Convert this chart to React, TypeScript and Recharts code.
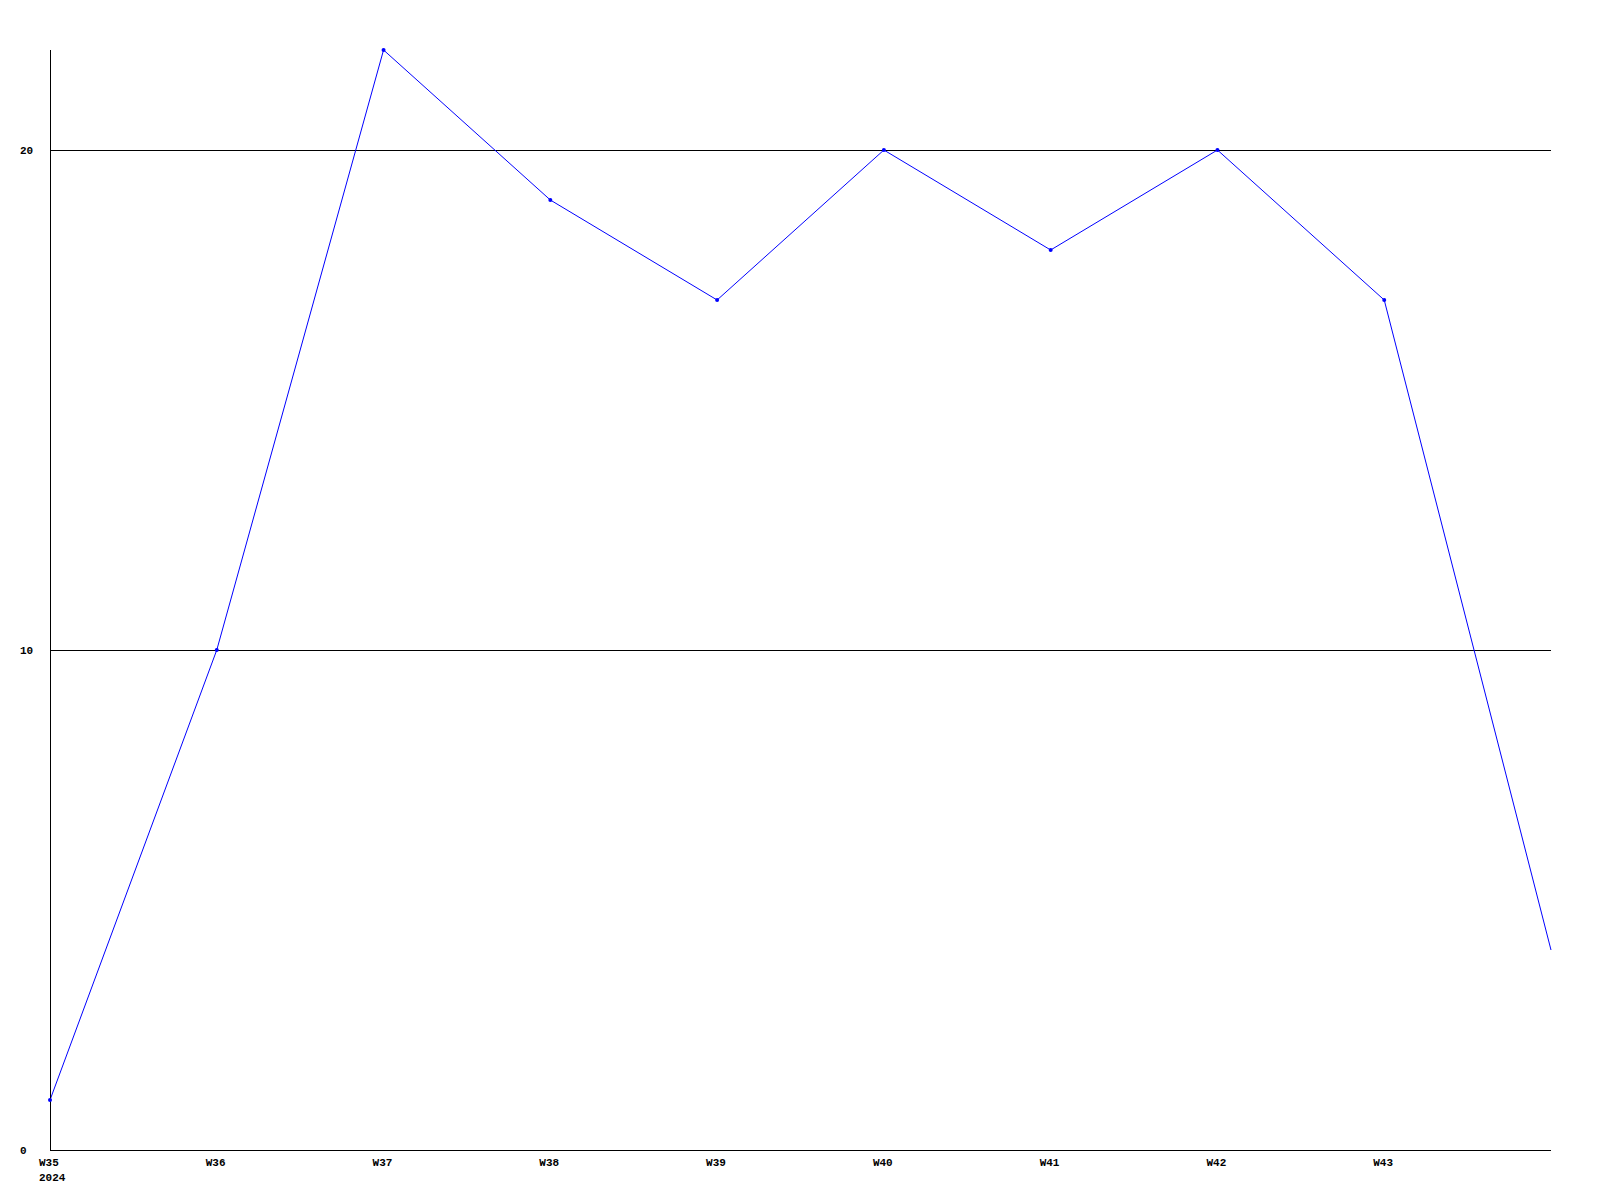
import React from 'react';
import { LineChart, Line, XAxis, YAxis, ReferenceLine } from 'recharts';

// weekly counts
const weeks = ['W35', 'W36', 'W37', 'W38', 'W39', 'W40', 'W41', 'W42', 'W43', 'W44'];
const counts = [1, 10, 22, 19, 17, 20, 18, 20, 17, 4];
const yTicks = [0, 10, 20];
const gridLevels = [10, 20];
const yearLabel = '2024';

const data = weeks.map((w, i) => ({ week: w, value: counts[i] }));

const FONT = '"Liberation Mono", "DejaVu Sans Mono", monospace';

const WeekTick = (props: any) => {
  const { x, y, payload, index } = props;
  // last week has no label in the original
  if (index === weeks.length - 1) return null;
  return (
    <g>
      <text x={x - 11} y={y + 8} fontFamily={FONT} fontWeight="bold" fontSize={11} fill="#000">
        {payload.value}
      </text>
      {index === 0 && (
        <text x={x - 11} y={y + 23} fontFamily={FONT} fontWeight="bold" fontSize={11} fill="#000">
          {yearLabel}
        </text>
      )}
    </g>
  );
};

// y labels are left aligned in the original
const ValueTick = (props: any) => {
  const { y, payload } = props;
  return (
    <text x={20} y={y} dy={4} fontFamily={FONT} fontWeight="bold" fontSize={11} fill="#000">
      {payload.value}
    </text>
  );
};

const PointDot = (props: any) => {
  const { cx, cy, index } = props;
  if (index === counts.length - 1) return <g key={index} />;
  return <circle key={index} cx={cx} cy={cy} r={2} fill="#0000ff" stroke="none" />;
};

const App: React.FC = () => {
  return (
    <div style={{ position: 'absolute', left: 0, top: 0, width: 1600, height: 1200, background: '#fff' }}>
      <style>{'body{margin:0}'}</style>
      <LineChart width={1600} height={1200} data={data} margin={{ top: 50, right: 49, bottom: 0, left: 0 }}>
        {gridLevels.map((lv) => (
          <ReferenceLine key={lv} y={lv} stroke="#000" strokeWidth={1} shapeRendering="crispEdges" />
        ))}
        <XAxis
          dataKey="week"
          height={50}
          axisLine={{ stroke: '#000', shapeRendering: 'crispEdges' }}
          tickLine={false}
          tick={<WeekTick />}
          interval={0}
        />
        <YAxis
          width={50}
          domain={[0, 22]}
          ticks={yTicks}
          axisLine={{ stroke: '#000', shapeRendering: 'crispEdges' }}
          tickLine={false}
          tick={<ValueTick />}
        />
        <Line
          type="linear"
          dataKey="value"
          stroke="#0000ff"
          strokeWidth={1}
          dot={<PointDot />}
          activeDot={false}
          isAnimationActive={false}
        />
      </LineChart>
    </div>
  );
};

export default App;
